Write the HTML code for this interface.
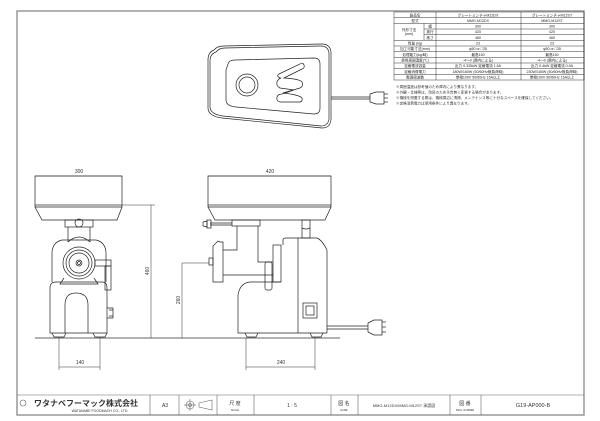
<!DOCTYPE html>
<html><head><meta charset="utf-8"><style>
html,body{margin:0;padding:0;background:#fff;}
svg{display:block;font-family:"Liberation Sans","Noto Sans CJK JP",sans-serif;}
</style></head><body>
<svg width="600" height="421" viewBox="0 0 600 421" xmlns="http://www.w3.org/2000/svg">
<rect x="0" y="0" width="600" height="421" fill="#fff"/>
<!-- frame -->
<rect x="17" y="11" width="567" height="404" fill="none" stroke="#999" stroke-width="1.5"/>

<!-- spec table -->
<g stroke="#333" stroke-width="0.5" fill="none">
<rect x="394" y="12" width="190" height="68"/>
<line x1="436" y1="12" x2="436" y2="80"/><line x1="521" y1="12" x2="521" y2="80"/>
<line x1="424" y1="23.3" x2="424" y2="40.3"/>
<line x1="394" y1="17.7" x2="584" y2="17.7"/>
<line x1="394" y1="23.3" x2="584" y2="23.3"/>
<line x1="424" y1="29" x2="584" y2="29"/>
<line x1="424" y1="34.7" x2="584" y2="34.7"/>
<line x1="394" y1="40.3" x2="584" y2="40.3"/>
<line x1="394" y1="46" x2="584" y2="46"/>
<line x1="394" y1="51.7" x2="584" y2="51.7"/>
<line x1="394" y1="57.3" x2="584" y2="57.3"/>
<line x1="394" y1="63" x2="584" y2="63"/>
<line x1="394" y1="68.7" x2="584" y2="68.7"/>
<line x1="394" y1="74.3" x2="584" y2="74.3"/>
</g>
<g font-size="3.6" fill="#222" text-anchor="middle">
<text x="415" y="16.5">製品名</text><text x="478" y="16.5">グレートミンチャM12DX</text><text x="552" y="16.5">グレートミンチャM12ST</text>
<text x="415" y="22">型式</text><text x="478" y="22">MMG-M12DX</text><text x="552" y="22">MMG-M12ST</text>
<text x="409" y="31">外形寸法</text><text x="409" y="35">(mm)</text>
<text x="430" y="27.5">幅</text><text x="478" y="27.5">300</text><text x="552" y="27.5">300</text>
<text x="430" y="33.2">奥行</text><text x="478" y="33.2">420</text><text x="552" y="33.2">420</text>
<text x="430" y="38.8">高さ</text><text x="478" y="38.8">460</text><text x="552" y="38.8">460</text>
<text x="415" y="44.5">質量 (kg)</text><text x="478" y="44.5">23</text><text x="552" y="44.5">23</text>
<text x="415" y="50.2">加工可能寸法(mm)</text><text x="478" y="50.2">φ50 or □35</text><text x="552" y="50.2">φ50 or □35</text>
<text x="415" y="55.8">処理能力(kg/時)</text><text x="478" y="55.8">最高150</text><text x="552" y="55.8">最高150</text>
<text x="415" y="61.5">使用周囲温度(℃)</text><text x="478" y="61.5">-4～0 (庫内による)</text><text x="552" y="61.5">-4～0 (庫内による)</text>
<text x="415" y="67.2">定格電流容量</text><text x="478" y="67.2">出力 0.335kW 定格電流 1.5A</text><text x="552" y="67.2">出力 0.4kW 定格電流 0.9A</text>
<text x="415" y="72.8">定格消費電力</text><text x="478" y="72.8">180W/160W (50/60Hz無負荷時)</text><text x="552" y="72.8">230W/180W (50/60Hz無負荷時)</text>
<text x="415" y="78.5">電源周波数</text><text x="478" y="78.5">単相100V 50/60Hz 15A以上</text><text x="552" y="78.5">単相100V 50/60Hz 15A以上</text>
</g>
<g font-size="3.6" fill="#333">
<text x="396" y="88">※周囲温度は参考値のため庫内により異なります。</text>
<text x="396" y="93.5">※外観・仕様等は、改良のため予告無く変更する場合があります。</text>
<text x="396" y="99">※機械を設置する際は、機械周辺に清掃、メンテナンス等に十分なスペースを確保してください。</text>
<text x="396" y="104.5">※定格消費電力は使用条件により異なります。</text>
</g>

<g stroke="#222" stroke-width="0.7" fill="none">
<!-- top view -->
<path d="M214,50 Q217,46 224,46 L322,44 Q330,44 331,52 L331,120 Q330,128 322,128 L222,118 Q208,116 208,108 L208,60 Q208,52 214,50 Z"/>
<path d="M216,52 Q219,48 225,48 L321,46 Q328,46 329,53 L329,119 Q328,126 321,126 L223,116 Q210,114 210,107 L210,61 Q210,54 216,52 Z"/>
<path d="M228,64 Q229,60 235,60 L314,58 Q320,58 320,64 L320,108 Q320,114 314,114 L236,107 Q226,106 226,100 L226,70 Z"/>
<circle cx="247" cy="85" r="11"/><circle cx="247" cy="85" r="8"/>
<path d="M279,74 L300,64 Q303,62 304,65 Q305,68 302,69 L284,78 Q300,79 302,82 Q304,86 300,88 L283,93 Q300,95 302,98 Q303,102 299,102 L280,102 Q276,101 277,97 Q278,94 282,94 L294,90 L280,88 Q276,86 277,82 Q278,79 281,78 L280,78 Q276,76 279,74 Z"/>
<line x1="331" y1="97" x2="370" y2="97"/><line x1="331" y1="99" x2="370" y2="99"/>
<path d="M370,94 L376,92 L384,92 L384,104 L376,104 L370,102 Z"/>
<line x1="384" y1="94" x2="388" y2="94"/><line x1="384" y1="98" x2="388" y2="98"/><line x1="384" y1="102" x2="388" y2="102"/>

<!-- front view -->
<rect x="35" y="176" width="87" height="29"/>
<line x1="35" y1="207" x2="122" y2="207"/>
<path d="M35,205 L35,207 L42,220 L117,220 L122,207 L122,205"/>
<rect x="65" y="220" width="28" height="7"/>
<circle cx="79" cy="223" r="4"/>
<path d="M68,227 L68,242 M90,227 L90,242"/>
<path d="M52,282 L52,252 Q53,242 62,240 L96,240 Q105,242 106,252 L106,282"/>
<path d="M68,242 Q79,232 90,242"/>
<circle cx="79" cy="263" r="16"/><circle cx="79" cy="263" r="13"/><circle cx="79" cy="263" r="10"/>
<circle cx="79" cy="263" r="3"/><circle cx="79" cy="263" r="1.5"/>
<path d="M64,278 L60,284 L98,284 L94,278"/>
<rect x="95" y="260" width="16" height="6"/>
<rect x="105" y="266" width="6" height="24"/>
<path d="M50,288 Q50,282 56,282 L102,282 Q107,282 107,288 L107,333 L50,333 Z"/>
<path d="M65,333 L65,305 Q65,293 76,293 Q88,293 88,305 L88,333"/>
<path d="M107,308 L113,308 L113,318 L107,318 M109,310 L113,310 M109,316 L113,316"/>
<path d="M52,333 L54,337 L64,337 L66,333 M93,333 L95,337 L105,337 L107,333"/>

<!-- side view -->
<rect x="208" y="176" width="123" height="29"/>
<line x1="208" y1="207" x2="331" y2="207"/>
<path d="M208,205 L208,207 L215,220 L325,220 L331,207 L331,205"/>
<rect x="232" y="220" width="28" height="6"/>
<path d="M210,223 L232,223 M210,225 L232,225"/>
<rect x="207" y="220" width="4" height="8"/><path d="M203,222 L207,221 L207,227 L203,226 Z"/>
<path d="M237,226 L237,250 L223,250 M258,226 L258,262 L273,262"/>
<path d="M213,246 L218,241 L220,242 L223,242 L223,282 L213,282 Z"/>
<rect x="209" y="258" width="4" height="7"/>
<path d="M223,275 L273,275"/>
<rect x="273" y="245" width="8" height="37"/>
<rect x="265" y="262" width="7" height="28" rx="2"/>
<path d="M283,245 L283,240 Q283,238 286,238 L317,238 Q322,240 327,250 L327,333"/>
<line x1="298" y1="238" x2="298" y2="333"/>
<rect x="302" y="220" width="8" height="18"/>
<path d="M302,228 Q306,230 310,228"/>
<path d="M281,282 L250,282 Q240,283 238,295 L238,333 L327,333"/>
<rect x="303" y="303" width="14" height="15"/><rect x="306" y="306" width="8" height="9"/>
<path d="M245,333 L247,337 L256,337 L258,333 M310,333 L312,337 L321,337 L323,333"/>
<line x1="327" y1="326" x2="368" y2="326"/><line x1="327" y1="329" x2="368" y2="329"/>
<path d="M368,323 L374,320 L382,320 L382,335 L374,335 L368,332 Z"/>
<line x1="382" y1="322" x2="386" y2="322"/><line x1="382" y1="327" x2="386" y2="327"/><line x1="382" y1="332" x2="386" y2="332"/>
</g>

<!-- dimensions -->
<g stroke="#333" stroke-width="0.5" fill="none">
<line x1="35" y1="338" x2="340" y2="338" stroke-width="0.7"/>
<line x1="35" y1="176" x2="122" y2="176"/>
<line x1="208" y1="176" x2="331" y2="176"/>
<line x1="122" y1="205" x2="155" y2="205"/>
<line x1="151" y1="205" x2="151" y2="338"/>
<line x1="182" y1="263" x2="209" y2="263"/>
<line x1="182" y1="263" x2="182" y2="338"/>
<line x1="59" y1="338" x2="59" y2="370"/><line x1="100" y1="338" x2="100" y2="370"/>
<line x1="59" y1="367" x2="100" y2="367"/>
<line x1="246" y1="338" x2="246" y2="370"/><line x1="315" y1="338" x2="315" y2="370"/>
<line x1="246" y1="367" x2="315" y2="367"/>
</g>
<g font-size="5" fill="#333" text-anchor="middle">
<text x="79" y="173">300</text>
<text x="270" y="173">420</text>
<text x="80" y="364">140</text>
<text x="281" y="364">240</text>
<text transform="translate(149,271) rotate(-90)">460</text>
<text transform="translate(180,300) rotate(-90)">260</text>
</g>

<!-- title block -->
<g stroke="#666" stroke-width="0.6" fill="none">
<line x1="17" y1="395" x2="584" y2="395"/>
<line x1="150" y1="395" x2="150" y2="415"/><line x1="179" y1="395" x2="179" y2="415"/>
<line x1="217" y1="395" x2="217" y2="415"/><line x1="254" y1="395" x2="254" y2="415"/>
<line x1="331" y1="395" x2="331" y2="415"/><line x1="358" y1="395" x2="358" y2="415"/>
<line x1="450" y1="395" x2="450" y2="415"/><line x1="481" y1="395" x2="481" y2="415"/>
<circle cx="190" cy="405" r="4"/><circle cx="190" cy="405" r="1.5"/>
<line x1="184" y1="405" x2="196" y2="405"/><line x1="190" y1="399" x2="190" y2="411"/>
<path d="M199,403 L212,400 L212,410 L199,407 Z"/>
<circle cx="23" cy="403" r="3"/>
</g>
<g fill="#333" text-anchor="middle">
<text x="86" y="406" font-size="8" font-weight="bold">ワタナベフーマック株式会社</text>
<text x="100" y="412" font-size="3.5">WATANABE FOODMACH CO., LTD.</text>
<text x="165" y="407" font-size="5">A3</text>
<text x="235" y="405" font-size="5">尺 度</text><text x="235" y="411" font-size="2.5">SCALE</text>
<text x="292" y="407" font-size="5">1 : 5</text>
<text x="344" y="405" font-size="5">図 名</text><text x="344" y="411" font-size="2.5">NAME</text>
<text x="404" y="407" font-size="4">MMG-M12DX/MMG-M12ST 承認図</text>
<text x="465" y="405" font-size="5">図 番</text><text x="465" y="411" font-size="2.5">DWG. NUMBER</text>
<text x="533" y="407" font-size="5.5">G19-AP000-B</text>
</g>
</svg>
</body></html>
